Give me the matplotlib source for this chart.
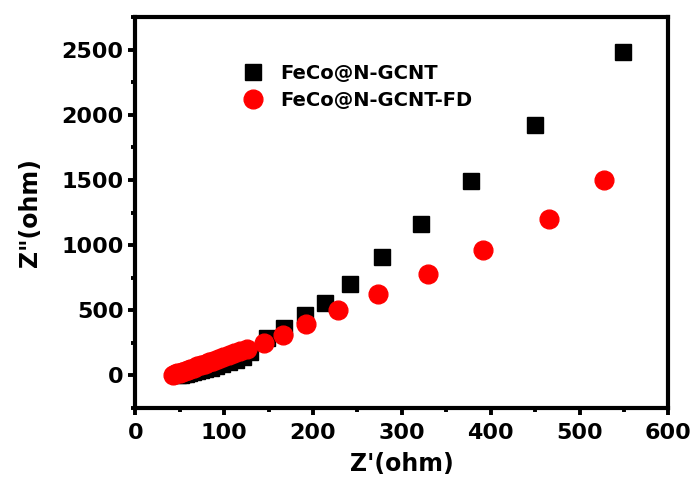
import numpy as np
import matplotlib
matplotlib.use("Agg")
import matplotlib.pyplot as plt
from matplotlib.ticker import MultipleLocator

# FeCo@N-GCNT (black squares)
gcnt_x = [48, 51, 54, 57, 61, 65, 69, 74, 79, 85, 91, 98, 105, 113, 121, 129,
          148, 167, 191, 214, 242, 278, 322, 378, 450, 549]
gcnt_y = [0, 3, 7, 12, 18, 25, 32, 40, 50, 60, 72, 85, 100, 118, 140, 180,
          285, 360, 462, 555, 705, 908, 1164, 1495, 1921, 2479]

# FeCo@N-GCNT-FD (red circles)
fd_x = [43, 45, 47, 50, 53, 56, 59, 62, 66, 70, 74, 78, 83, 88, 93, 99, 105,
        111, 118, 126, 144.5, 166, 192.5, 228, 273.5, 330, 391, 466, 527]
fd_y = [5, 10, 16, 22, 29, 36, 43, 51, 60, 69, 79, 89, 101, 113, 126, 141, 156,
        172, 188, 205, 251, 313, 398, 505, 628, 780, 964, 1202, 1500]

plt.rcParams['font.family'] = 'DejaVu Sans'
plt.rcParams['font.weight'] = 'bold'

fig = plt.figure(figsize=(6.97, 4.88), dpi=100)
ax = fig.add_axes([0.194, 0.164, 0.765, 0.801])

ax.plot(gcnt_x, gcnt_y, 's', color='black', markersize=11.5, linestyle='none',
        label='FeCo@N-GCNT')
ax.plot(fd_x, fd_y, 'o', color='red', markersize=13.5, linestyle='none',
        label='FeCo@N-GCNT-FD')

ax.set_xlim(0, 600)
ax.set_ylim(-250, 2750)
ax.xaxis.set_major_locator(MultipleLocator(100))
ax.xaxis.set_minor_locator(MultipleLocator(50))
ax.yaxis.set_major_locator(MultipleLocator(500))
ax.yaxis.set_minor_locator(MultipleLocator(250))

for s in ax.spines.values():
    s.set_linewidth(3)
ax.tick_params(which='both', direction='out', width=2.8, top=False, right=False,
               labelsize=16)
ax.tick_params(axis='x', which='both', pad=6)
ax.tick_params(which='major', length=5)
ax.tick_params(which='minor', length=3)
for lab in ax.get_xticklabels() + ax.get_yticklabels():
    lab.set_fontweight('bold')

ax.set_xlabel("Z'(ohm)", fontsize=17, fontweight='bold', labelpad=6)
ax.set_ylabel('Z"(ohm)', fontsize=17, fontweight='bold', labelpad=14)

ax.legend(loc='upper left', bbox_to_anchor=(0.17, 0.925), frameon=False,
          handletextpad=0.9, labelspacing=0.4, handlelength=1.0,
          prop={'weight': 'bold', 'size': 14})

fig.savefig('out.png', dpi=100)
